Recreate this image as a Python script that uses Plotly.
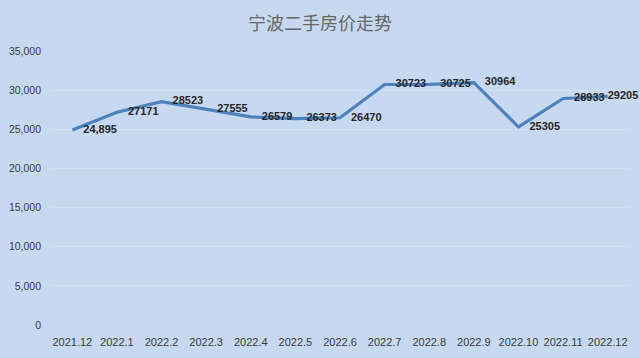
import plotly.graph_objects as go

months = ["2021.12", "2022.1", "2022.2", "2022.3", "2022.4", "2022.5", "2022.6",
          "2022.7", "2022.8", "2022.9", "2022.10", "2022.11", "2022.12"]
prices = [24895, 27171, 28523, 27555, 26579, 26373, 26470,
          30723, 30725, 30964, 25305, 28933, 29205]
price_labels = ["24,895", "27171", "28523", "27555", "26579", "26373", "26470",
                "30723", "30725", "30964", "25305", "28933", "29205"]
y_ticks = [0, 5000, 10000, 15000, 20000, 25000, 30000, 35000]
y_tick_text = ["0", "5,000", "10,000", "15,000", "20,000", "25,000", "30,000", "35,000"]

BG = "#c6d9f1"
LINE = "#4f81bd"

fig = go.Figure()
fig.add_trace(go.Scatter(
    x=months, y=prices, mode="lines",
    line=dict(color=LINE, width=3.2),
    hoverinfo="skip", showlegend=False,
))

# invisible markers only used to push the data labels away from the line
pad_sizes = [16] * (len(months) - 1) + [0]
fig.add_trace(go.Scatter(
    x=months, y=prices, mode="markers+text",
    text=price_labels, textposition="middle right",
    marker=dict(size=pad_sizes, color="rgba(0,0,0,0)", opacity=0,
                line=dict(width=0, color="rgba(0,0,0,0)")),
    textfont=dict(family="Liberation Sans", size=11, color="#262626", weight="bold"),
    hoverinfo="skip", showlegend=False, cliponaxis=False,
))

fig.update_layout(
    width=640, height=358,
    margin=dict(l=50, r=10, t=51, b=33),
    paper_bgcolor=BG, plot_bgcolor=BG,
    title=dict(
        text="宁波二手房价走势", x=0.5, xanchor="center", y=0.935, yanchor="middle",
        font=dict(family="Noto Sans CJK SC", size=18, color="#666666"),
    ),
    xaxis=dict(
        type="category", range=[-0.5, len(months) - 0.5],
        showgrid=False, showline=False, zeroline=False, ticks="",
        tickfont=dict(family="Liberation Sans", size=11, color="#3a3a3a"),
        ticklabelstandoff=9,
        fixedrange=True,
    ),
    yaxis=dict(
        range=[0, 35000], tickvals=y_ticks, ticktext=y_tick_text,
        showgrid=True, gridcolor="#d0dff3", gridwidth=1,
        showline=False, zeroline=False, ticks="",
        tickfont=dict(family="Liberation Sans", size=10.5, color="#3a3a3a"),
        ticklabelstandoff=8,
        fixedrange=True,
    ),
)

fig.write_html(
    "out.html",
    config={"displayModeBar": False},
    post_script="document.body.style.margin='0';document.body.style.background='#c6d9f1';",
)
